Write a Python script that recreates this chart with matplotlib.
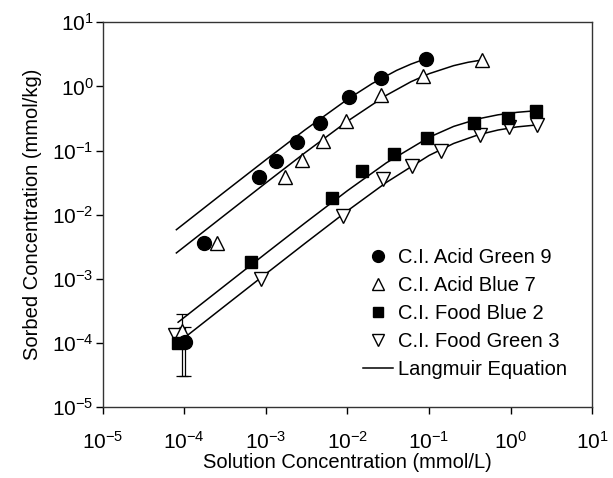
import matplotlib.pyplot as plt
from matplotlib.lines import Line2D

plt.rcParams['font.family'] = ['Liberation Sans', 'DejaVu Sans']
plt.rcParams['mathtext.fontset'] = 'custom'
plt.rcParams['mathtext.rm'] = 'Liberation Sans'
plt.rcParams['mathtext.it'] = 'Liberation Sans:italic'
plt.rcParams['mathtext.bf'] = 'Liberation Sans:bold'

# measured points (solution conc. mmol/L, sorbed conc. mmol/kg)
ag9_x = [1.02e-4, 1.76e-4, 8.3e-4, 1.32e-3, 2.43e-3, 4.65e-3, 0.0104, 0.0255, 0.0908]
ag9_y = [1.05e-4, 3.65e-3, 0.039, 0.0686, 0.137, 0.271, 0.684, 1.34, 2.68]
ag9_err = 7.5e-5

ab7_x = [9.3e-5, 2.49e-4, 1.71e-3, 2.79e-3, 4.97e-3, 9.6e-3, 0.0259, 0.0836, 0.442]
ab7_y = [1.55e-4, 3.67e-3, 0.039, 0.0711, 0.142, 0.292, 0.734, 1.45, 2.58]
ab7_err = 1.25e-4

fb2_x = [8.3e-5, 6.52e-4, 6.4e-3, 0.0152, 0.0368, 0.0955, 0.355, 0.918, 2.04]
fb2_y = [9.8e-5, 1.84e-3, 0.0185, 0.0479, 0.0882, 0.155, 0.266, 0.318, 0.418]

fg3_x = [7.7e-5, 8.63e-4, 8.8e-3, 0.027, 0.0612, 0.139, 0.421, 0.953, 2.12]
fg3_y = [1.32e-4, 1.01e-3, 9.5e-3, 0.0356, 0.0573, 0.098, 0.175, 0.230, 0.25]

# Langmuir curves
ag9_fit_x = [8e-5, 3e-4, 1e-3, 3e-3, 0.01, 0.02, 0.04, 0.06, 0.08, 0.11]
ag9_fit_y = [5.83e-3, 0.0218, 0.0718, 0.209, 0.629, 1.106, 1.78, 2.23, 2.55, 2.91]

ab7_fit_x = [8e-5, 3e-4, 1e-3, 3e-3, 0.01, 0.03, 0.06, 0.1, 0.2, 0.3, 0.44]
ab7_fit_y = [2.53e-3, 9.45e-3, 0.0313, 0.092, 0.287, 0.729, 1.185, 1.58, 2.11, 2.38, 2.58]

fb2_fit_x = [8.4e-5, 3e-4, 1e-3, 3e-3, 0.01, 0.03, 0.1, 0.2, 0.4, 0.7, 1.2, 2.0]
fb2_fit_y = [2.1e-4, 7.49e-4, 2.49e-3, 7.38e-3, 0.0237, 0.0644, 0.161, 0.238, 0.3125, 0.361, 0.395, 0.417]

fg3_fit_x = [9.7e-5, 3e-4, 1e-3, 3e-3, 0.01, 0.03, 0.1, 0.2, 0.4, 0.7, 1.2, 2.1]
fg3_fit_y = [1.164e-4, 3.6e-4, 1.195e-3, 3.55e-3, 0.0115, 0.0319, 0.0839, 0.129, 0.176, 0.209, 0.234, 0.251]

labels = ['C.I. Acid Green 9', 'C.I. Acid Blue 7', 'C.I. Food Blue 2',
          'C.I. Food Green 3', 'Langmuir Equation']

FS = 14.5

fig = plt.figure(figsize=(6.13, 4.78), dpi=100)
ax = fig.add_axes([0.1675, 0.1485, 0.7987, 0.8048])

for fx, fy in [(ag9_fit_x, ag9_fit_y), (ab7_fit_x, ab7_fit_y),
               (fb2_fit_x, fb2_fit_y), (fg3_fit_x, fg3_fit_y)]:
    ax.plot(fx, fy, color='black', lw=1.1, zorder=2)

# error bars on the lowest points
ax.errorbar(ab7_x[:1], ab7_y[:1], yerr=[ab7_err], fmt='none', ecolor='black',
            elinewidth=0.9, capsize=4, capthick=0.9, zorder=3)
ax.errorbar(ag9_x[:1], ag9_y[:1], yerr=[ag9_err], fmt='none', ecolor='black',
            elinewidth=0.9, capsize=4, capthick=0.9, zorder=3)

ax.plot(fg3_x, fg3_y, ls='none', marker='v', ms=10, mfc='white', mec='black', mew=1.0, zorder=4)
ax.plot(ab7_x, ab7_y, ls='none', marker='^', ms=10, mfc='white', mec='black', mew=1.0, zorder=4)
ax.plot(fb2_x, fb2_y, ls='none', marker='s', ms=8, mfc='black', mec='black', zorder=5)
ax.plot(ag9_x, ag9_y, ls='none', marker='o', ms=10, mfc='black', mec='black', zorder=6)

ax.set_xscale('log')
ax.set_yscale('log')
ax.set_xlim(1e-5, 10)
ax.set_ylim(1e-5, 10)
ax.minorticks_off()
ax.set_xticks([1e-5, 1e-4, 1e-3, 1e-2, 1e-1, 1, 10])
ax.set_yticks([1e-5, 1e-4, 1e-3, 1e-2, 1e-1, 1, 10])
ax.tick_params(direction='out', length=5, width=1, labelsize=15, colors='black',
               top=False, right=False)
ax.tick_params(axis='x', pad=12)
ax.tick_params(axis='y', pad=1.5)
for s in ax.spines.values():
    s.set_linewidth(1.0)
    s.set_color('#333333')

ax.set_xlabel('Solution Concentration (mmol/L)', fontsize=FS, labelpad=0)
ax.set_ylabel('Sorbed Concentration (mmol/kg)', fontsize=FS, labelpad=7.5)

handles = [
    Line2D([], [], ls='none', marker='o', ms=8.5, mfc='black', mec='black'),
    Line2D([], [], ls='none', marker='^', ms=8.5, mfc='white', mec='black', mew=1.0),
    Line2D([], [], ls='none', marker='s', ms=7, mfc='black', mec='black'),
    Line2D([], [], ls='none', marker='v', ms=8.5, mfc='white', mec='black', mew=1.0),
    Line2D([], [], color='black', lw=1.1),
]
ax.legend(handles, labels, loc='upper left', bbox_to_anchor=(363 / 613, 1 - 248 / 478),
          bbox_transform=fig.transFigure, borderaxespad=0, borderpad=0,
          frameon=False, fontsize=FS, handlelength=1.5, handletextpad=0.25,
          labelspacing=0.45)

fig.savefig('out.png', dpi=100)
